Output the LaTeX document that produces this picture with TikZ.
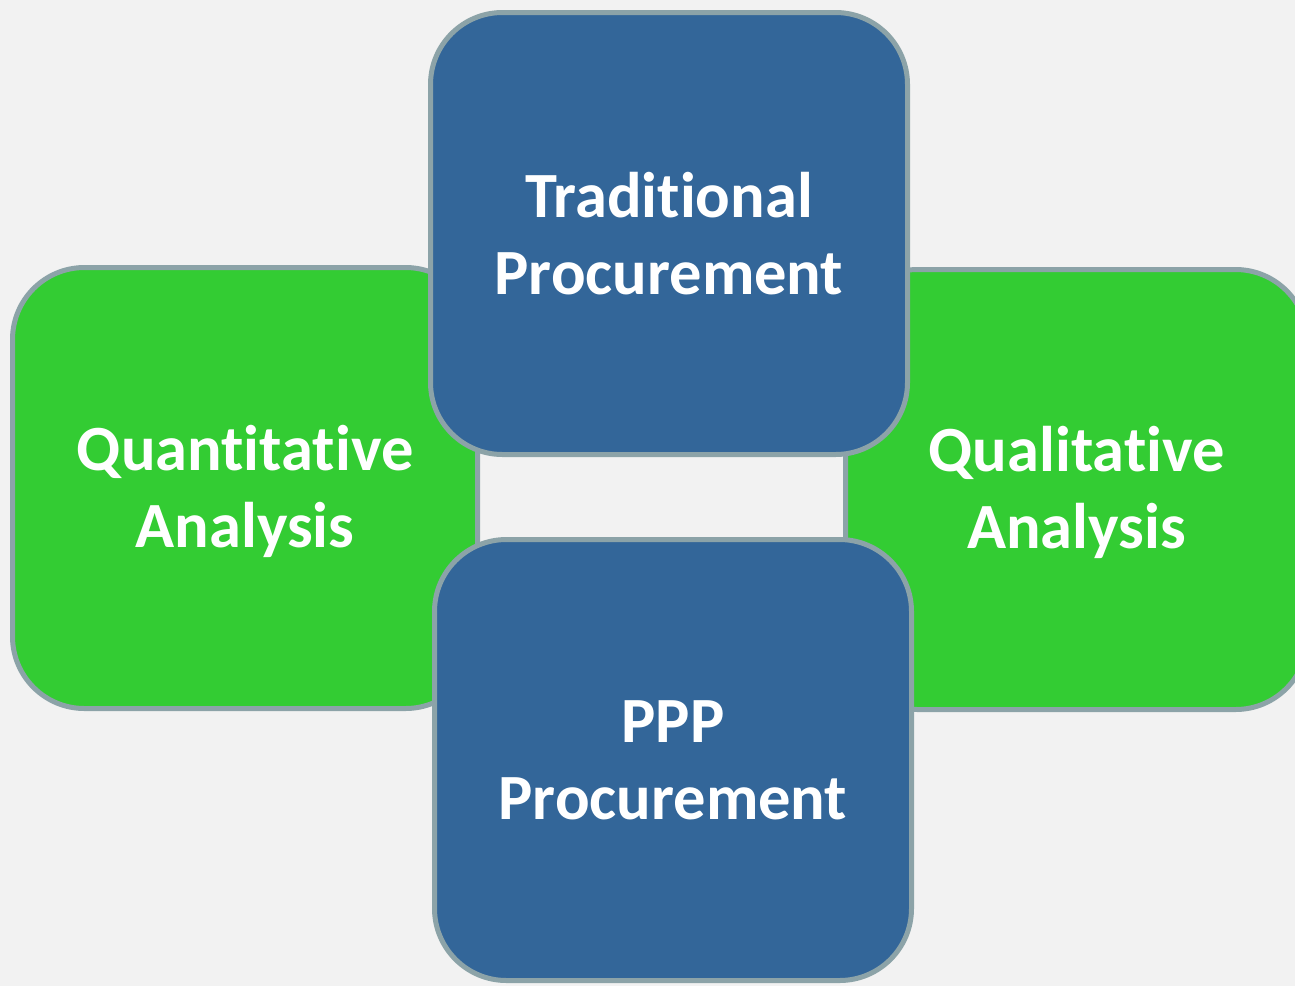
\documentclass[tikz,border=0pt]{standalone}
\usepackage{fontspec}
\setmainfont[Ligatures=NoCommon]{Carlito}
\definecolor{pagebg}{HTML}{F2F2F2}
\definecolor{boxblue}{HTML}{336699}
\definecolor{boxgreen}{HTML}{33CC33}
\definecolor{boxedge}{HTML}{8CA3A8}
\newcommand{\topstrut}{\rule{0pt}{52pt}}
\tikzset{
  card/.style={rectangle, draw=boxedge, line width=5pt, rounded corners=72pt,
    align=center, text=white, font=\fontsize{64.5}{77}\selectfont\bfseries},
  bluecard/.style={card, fill=boxblue, minimum width=477pt, minimum height=442pt},
  greencard/.style={card, fill=boxgreen, minimum height=441pt},
}
\begin{document}
\begin{tikzpicture}[x=1pt,y=-1pt]
  \fill[pagebg] (0,0) rectangle (1295,986);
  \useasboundingbox (0,0) rectangle (1295,986);
  \clip (0,0) rectangle (1295,986);
  % the two analysis cards sit behind
  \node[greencard, minimum width=465pt] (quant) at (245,488) {\topstrut Quantitative\\Analysis};
  \node[greencard, minimum width=462pt, minimum height=440pt] (qual) at (1076.5,489.5) {\topstrut Qualitative\\Analysis};
  % the two procurement cards on top
  \node[bluecard] (trad) at (669,233.5) {Traditional\\Procurement};
  \node[bluecard, minimum height=441pt] (ppp) at (673,760) {PPP\\Procurement};
\end{tikzpicture}
\end{document}
